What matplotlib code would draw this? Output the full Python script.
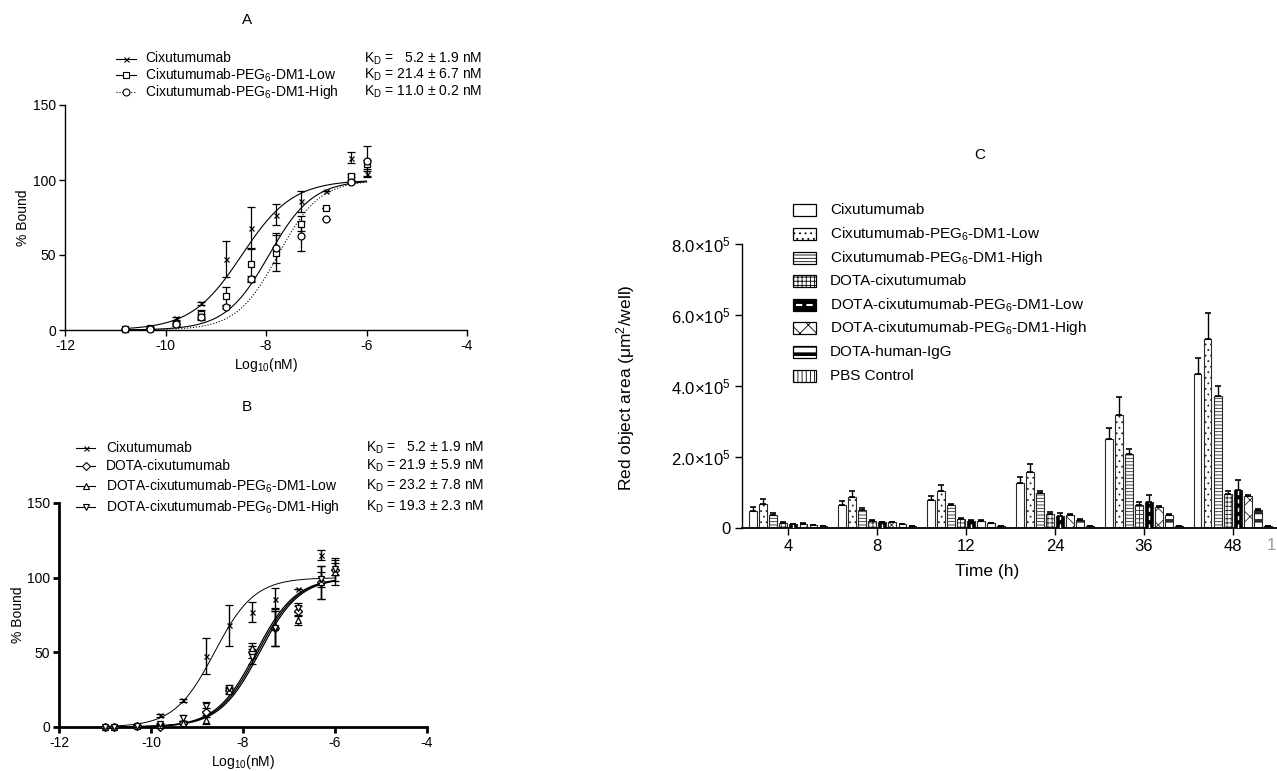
import matplotlib
matplotlib.use('Agg')
import matplotlib.pyplot as plt
import numpy as np
from matplotlib.lines import Line2D
from matplotlib.patches import Rectangle

plt.rcParams['font.family'] = ['Liberation Sans', 'DejaVu Sans']
plt.rcParams['mathtext.default'] = 'regular'
plt.rcParams['axes.unicode_minus'] = False
plt.rcParams['hatch.linewidth'] = 0.6

# ---------------- data: panel A ----------------
log_conc_a = [-10.8, -10.3, -9.8, -9.3, -8.8, -8.3, -7.8, -7.3, -6.8, -6.3, -6.0]
cix_y = [0.5, 1.0, 8, 18, 47.5, 68, 77, 86, 92.5, 115, 104]
cix_err = [0.5, 0.5, 1, 1, 12, 14, 7, 7, 0, 3.5, 2]
low_y = [0.5, 1.5, 5, 10.5, 23, 44, 51.5, 71, 81.5, 103, 110.5]
low_err = [0.5, 0.5, 1, 3, 6, 11, 12, 5, 0, 1, 3]
high_y = [0.5, 1.0, 3.8, 9, 15.5, 34, 55, 63, 74, 99, 113]
high_err = [0.3, 0.3, 1, 2, 1, 2, 10, 10, 0, 1, 10]
# fitted sigmoid parameters (logEC50, Hill slope)
fit_a = {'cix': (-8.48, 0.86), 'low': (-7.94, 1.0), 'high': (-7.76, 1.05)}
labels_a = ['Cixutumumab', 'Cixutumumab-PEG$_6$-DM1-Low', 'Cixutumumab-PEG$_6$-DM1-High']
kd_a = ['K$_D$ =   5.2 ± 1.9 nM', 'K$_D$ = 21.4 ± 6.7 nM', 'K$_D$ = 11.0 ± 0.2 nM']

# ---------------- data: panel B ----------------
log_conc_b = [-11.0, -10.8, -10.3, -9.8, -9.3, -8.8, -8.3, -7.8, -7.3, -6.8, -6.3, -6.0]
dota_y = [0.3, 0.3, 0.8, 0.0, 3, 10, 25, 50, 66, 78, 97, 105]
dota_err = [0, 0, 0.5, 0.5, 1, 3, 2, 4, 12, 3, 11, 7]
dlow_y = [0.3, 0.3, 1.0, 1.5, 3, 5, 24, 53, 67, 71.5, 97, 104]
dlow_err = [0, 0, 0.5, 0.5, 1, 3, 2, 3, 13, 3, 11, 9]
dhigh_y = [0.3, 0.3, 1.0, 2.0, 6, 14, 26, 47, 66, 80, 99, 106]
dhigh_err = [0, 0, 0.5, 0.5, 2, 3, 2, 5, 12, 3, 5, 4]
fit_b = {'cix': (-8.62, 1.0), 'dota': (-7.68, 1.0), 'dlow': (-7.64, 1.0), 'dhigh': (-7.72, 1.0)}
labels_b = ['Cixutumumab', 'DOTA-cixutumumab', 'DOTA-cixutumumab-PEG$_6$-DM1-Low',
            'DOTA-cixutumumab-PEG$_6$-DM1-High']
kd_b = ['K$_D$ =   5.2 ± 1.9 nM', 'K$_D$ = 21.9 ± 5.9 nM', 'K$_D$ = 23.2 ± 7.8 nM',
        'K$_D$ = 19.3 ± 2.3 nM']

# ---------------- data: panel C ----------------
times = ['4', '8', '12', '24', '36', '48']
groups_c = ['Cixutumumab', 'Cixutumumab-PEG$_6$-DM1-Low', 'Cixutumumab-PEG$_6$-DM1-High',
            'DOTA-cixutumumab', 'DOTA-cixutumumab-PEG$_6$-DM1-Low',
            'DOTA-cixutumumab-PEG$_6$-DM1-High', 'DOTA-human-IgG', 'PBS Control']
c_cix = [4.9e4, 6.6e4, 8.0e4, 1.28e5, 2.51e5, 4.34e5]
c_cix_err = [0.9e4, 1.1e4, 1.1e4, 1.5e4, 3.0e4, 4.6e4]
c_low = [6.7e4, 8.7e4, 1.05e5, 1.57e5, 3.19e5, 5.32e5]
c_low_err = [1.4e4, 1.7e4, 1.7e4, 2.3e4, 5.1e4, 7.3e4]
c_high = [3.8e4, 5.2e4, 6.4e4, 1.0e5, 2.09e5, 3.73e5]
c_high_err = [0.4e4, 0.4e4, 0.4e4, 0.5e4, 1.4e4, 2.8e4]
c_dota = [1.5e4, 2.1e4, 2.6e4, 3.9e4, 6.6e4, 9.7e4]
c_dota_err = [0.2e4, 0.2e4, 0.2e4, 0.5e4, 0.6e4, 0.7e4]
c_dlow = [1.0e4, 1.6e4, 2.0e4, 3.5e4, 7.2e4, 1.08e5]
c_dlow_err = [0.2e4, 0.2e4, 0.3e4, 0.7e4, 2.0e4, 2.7e4]
c_dhigh = [1.2e4, 1.7e4, 2.1e4, 3.7e4, 6.0e4, 8.9e4]
c_dhigh_err = [0.1e4, 0.1e4, 0.1e4, 0.2e4, 0.2e4, 0.3e4]
c_igg = [0.75e4, 1.0e4, 1.3e4, 2.25e4, 3.75e4, 5.2e4]
c_igg_err = [0.1e4, 0.1e4, 0.1e4, 0.2e4, 0.2e4, 0.2e4]
c_pbs = [0.55e4, 0.6e4, 0.5e4, 0.45e4, 0.45e4, 0.45e4]
c_pbs_err = [0.1e4, 0.1e4, 0.1e4, 0.1e4, 0.1e4, 0.1e4]
c_yticks = [0, 2e5, 4e5, 6e5, 8e5]

# ---------------- figure ----------------
W, H = 1277, 771
fig = plt.figure(figsize=(W / 100, H / 100), dpi=100)


def fx(px):
    return px / W


def fy(py):
    return 1 - py / H


def hill(x, logec50, h):
    return 100.0 / (1.0 + 10 ** (h * (logec50 - x)))


def style_binding_axes(ax, lw):
    for s in ['top', 'right']:
        ax.spines[s].set_visible(False)
    for s in ['left', 'bottom']:
        ax.spines[s].set_linewidth(lw)
    ax.set_xlim(-12, -4)
    ax.set_ylim(0, 150)
    ax.set_xticks([-12, -10, -8, -6, -4])
    ax.set_yticks([0, 50, 100, 150])
    ax.tick_params(direction='out', length=4.5, width=lw, labelsize=10, pad=2)


def legend_row(x0, x1, xt, xkd, y, marker, ls, label, kd, ms):
    fig.add_artist(Line2D([fx(x0), fx(x1)], [fy(y), fy(y)], transform=fig.transFigure,
                          color='black', lw=0.8, ls=ls))
    fig.add_artist(Line2D([fx((x0 + x1) / 2)], [fy(y)], transform=fig.transFigure,
                          marker=marker, ms=ms, mfc='white', mec='black', mew=0.8, ls='none'))
    fig.text(fx(xt), fy(y), label, fontsize=10, va='center', ha='left')
    fig.text(fx(xkd), fy(y), kd, fontsize=10, va='center', ha='right')


# ---------------- panel A ----------------
axA = fig.add_axes([fx(65), fy(330), fx(402), 225 / H])
style_binding_axes(axA, 1.0)
series_a = [(cix_y, cix_err, 'x', 3.6, 'cix', '-'),
            (low_y, low_err, 's', 5.0, 'low', '-'),
            (high_y, high_err, 'o', 5.0, 'high', ':')]
for yv, ev, mk, ms, key, ls in series_a:
    axA.errorbar(log_conc_a, yv, yerr=ev, fmt=mk, ms=ms, mfc='white', mec='black', mew=0.9,
                 ecolor='black', elinewidth=0.9, capsize=2.6, capthick=1.0, clip_on=False, zorder=3)
    xs = np.linspace(log_conc_a[0], log_conc_a[-1], 300)
    axA.plot(xs, hill(xs, *fit_a[key]), color='black', lw=0.8, ls=ls, zorder=2)
axA.set_xlabel('Log$_{10}$(nM)', fontsize=10, labelpad=2)
axA.set_ylabel('% Bound', fontsize=10, labelpad=2)
fig.text(fx(247), fy(20), 'A', fontsize=11, ha='center', va='center')
rows_a = [58.5, 75, 92]
for (yv, ev, mk, ms, key, ls), lab, kd, yr in zip(series_a, labels_a, kd_a, rows_a):
    legend_row(116, 136, 145, 482, yr, mk, ls, lab, kd, ms)

# ---------------- panel B ----------------
axB = fig.add_axes([fx(59), fy(727), fx(368), 224 / H])
style_binding_axes(axB, 2.0)
series_b = [(log_conc_a, cix_y, cix_err, 'x', 3.6, 'cix', 0.7),
            (log_conc_b, dota_y, dota_err, 'D', 4.2, 'dota', 0.9),
            (log_conc_b, dlow_y, dlow_err, '^', 5.0, 'dlow', 0.9),
            (log_conc_b, dhigh_y, dhigh_err, 'v', 5.0, 'dhigh', 0.9)]
for xv, yv, ev, mk, ms, key, lw in series_b:
    axB.errorbar(xv, yv, yerr=ev, fmt=mk, ms=ms, mfc='white', mec='black', mew=0.9,
                 ecolor='black', elinewidth=1.0, capsize=2.6, capthick=1.2, clip_on=False, zorder=3)
    xs = np.linspace(-11.0, -6.0, 300)
    axB.plot(xs, hill(xs, *fit_b[key]), color='black', lw=lw, zorder=2)
axB.set_xlabel('Log$_{10}$(nM)', fontsize=10, labelpad=2)
axB.set_ylabel('% Bound', fontsize=10, labelpad=1)
fig.text(fx(247), fy(407), 'B', fontsize=11, ha='center', va='center')
rows_b = [447.5, 466, 486, 506.5]
for (xv, yv, ev, mk, ms, key, lw), lab, kd, yr in zip(series_b, labels_b, kd_b, rows_b):
    legend_row(76, 95, 106, 484, yr, mk, '-', lab, kd, ms)

# ---------------- panel C ----------------
axC = fig.add_axes([fx(742), fy(528), fx(626), 284 / H])
for s in ['top', 'right']:
    axC.spines[s].set_visible(False)
axC.spines['left'].set_linewidth(1.0)
axC.spines['bottom'].set_linewidth(1.3)

vals_c = [c_cix, c_low, c_high, c_dota, c_dlow, c_dhigh, c_igg, c_pbs]
errs_c = [c_cix_err, c_low_err, c_high_err, c_dota_err, c_dlow_err, c_dhigh_err, c_igg_err, c_pbs_err]
styles_c = [dict(fc='white', hatch=None),
            dict(fc='white', hatch='...'),
            dict(fc='white', hatch='-----'),
            dict(fc='white', hatch='++++'),
            dict(fc='black', hatch=None),
            dict(fc='white', hatch='xx'),
            dict(fc='white', hatch='--'),
            dict(fc='white', hatch='||||')]
slot = 0.1124
bw = 0.079
gx = np.arange(len(times))
edge = '#2a2a2a'
for j, (v, e, st) in enumerate(zip(vals_c, errs_c, styles_c)):
    xp = gx + (j - 3.5) * slot
    bars = axC.bar(xp, v, width=bw, color=st['fc'], edgecolor=edge, lw=0.8,
                   hatch=st['hatch'], zorder=2)
    if j == 6:
        for b in bars:
            if hasattr(b, 'set_hatch_linewidth'):
                b.set_hatch_linewidth(2.6)
    if j == 4:
        axC.vlines(xp, 0, v, colors='white', linestyles=(0, (3, 3)), lw=1.0, zorder=3)
    axC.errorbar(xp, v, yerr=[np.zeros(len(v)), e], fmt='none', ecolor='black',
                 elinewidth=1.0, capsize=2.3, capthick=1.2, zorder=4)

axC.set_xlim(-0.517, 6.517)
axC.set_ylim(0, 8e5)
axC.set_xticks(gx)
axC.set_xticklabels(times)
axC.set_yticks(c_yticks)
axC.set_yticklabels(['0' if t == 0 else '%.1f×10$^{%d}$' % (t / 1e5, 5) for t in c_yticks])
axC.tick_params(direction='out', length=5, width=1.0, labelsize=12, pad=3)
axC.set_xlabel('Time (h)', fontsize=12.5)
axC.xaxis.set_label_coords((987 - 742) / 626, (528 - 564) / 284)
fig.text(fx(626), fy(388), 'Red object area (μm$^2$/well)', fontsize=12.5, rotation=90,
         ha='center', va='center')
fig.text(fx(980), fy(155), 'C', fontsize=11, ha='center', va='center')
fig.text(fx(1267), fy(545), '1', fontsize=12, color='#9a9a9a', ha='left', va='center')

# legend C
rows_c = [210, 234, 258, 281, 305, 328, 352, 376]
for j, (lab, st, yr) in enumerate(zip(groups_c, styles_c, rows_c)):
    x0, y0, w, h = fx(793), fy(yr + 6), 23 / W, 12 / H
    r = Rectangle((x0, y0), w, h, transform=fig.transFigure, facecolor=st['fc'],
                  edgecolor='black', lw=0.9, hatch=st['hatch'])
    if j == 6 and hasattr(r, 'set_hatch_linewidth'):
        r.set_hatch_linewidth(2.6)
    fig.add_artist(r)
    if j == 4:
        fig.add_artist(Line2D([x0 + 0.002, x0 + w - 0.002], [fy(yr), fy(yr)],
                              transform=fig.transFigure, color='white', lw=1.5,
                              ls=(0, (3, 2))))
    fig.text(fx(830), fy(yr), lab, fontsize=11, va='center', ha='left')

fig.savefig('out.png', dpi=100)
